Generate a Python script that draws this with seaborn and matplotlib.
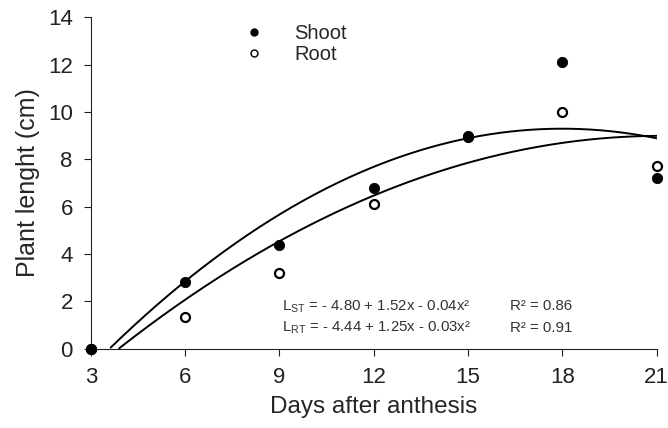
import numpy as np
import pandas as pd
import seaborn as sns
import matplotlib
matplotlib.use("Agg")
import matplotlib.pyplot as plt
from matplotlib.lines import Line2D

# data
days = [3, 6, 9, 12, 15, 18, 21]
shoot = [0.0, 2.8, 4.4, 6.8, 9.0, 12.1, 7.2]
root = [0.0, 1.35, 3.2, 6.1, 8.95, 10.0, 7.7]

# quadratic fits as drawn (a + b*x + c*x^2)
shoot_fit = [-5.21, 1.612, -0.0448]
root_fit = [-4.50, 1.2765, -0.0302]

eq_shoot = r"L$_{\rm ST}$ = - 4.80 + 1.52x - 0.04x²"
eq_root = r"L$_{\rm RT}$ = - 4.44 + 1.25x - 0.03x²"
r2_shoot = "R² = 0.86"
r2_root = "R² = 0.91"

sns.set_style("ticks")
plt.rcParams['font.family'] = ['Liberation Sans', 'DejaVu Sans']
plt.rcParams['mathtext.fontset'] = 'custom'
plt.rcParams['mathtext.rm'] = 'Liberation Sans'

fig = plt.figure(figsize=(6.68, 4.28), dpi=100)
ax = fig.add_axes([0.136, 0.185, 0.847, 0.775])

def curve(coef):
    a, b, c = coef
    xs = np.linspace(3, 21, 400)
    ys = a + b * xs + c * xs ** 2
    keep = ys >= 0
    return pd.DataFrame({"x": xs[keep], "y": ys[keep]})

for coef in (shoot_fit, root_fit):
    d = curve(coef)
    sns.lineplot(data=d, x="x", y="y", color="black", lw=1.4, ax=ax, sort=False)

df_s = pd.DataFrame({"day": days, "len": shoot})
df_r = pd.DataFrame({"day": days, "len": root})
sns.scatterplot(data=df_r, x="day", y="len", marker="o", s=42, facecolor="white",
                edgecolor="black", linewidth=1.6, ax=ax, clip_on=False, zorder=3)
sns.scatterplot(data=df_s, x="day", y="len", marker="o", s=55, color="black",
                edgecolor="black", ax=ax, clip_on=False, zorder=4)

ax.set_xlim(3, 21)
ax.set_ylim(0, 14)
ax.set_xticks(days)
ax.set_yticks(range(0, 15, 2))
sns.despine(ax=ax)
for s in ("left", "bottom"):
    ax.spines[s].set_linewidth(0.8)
    ax.spines[s].set_color("#222222")
ax.tick_params(direction="out", length=5, width=0.8, labelsize=16, pad=8, colors="#222222")
ax.set_xlabel("Days after anthesis", fontsize=17.5, labelpad=6)
ax.set_ylabel("Plant lenght (cm)", fontsize=18, labelpad=6)

handles = [Line2D([], [], marker="o", ls="", color="black", markersize=5),
           Line2D([], [], marker="o", ls="", markerfacecolor="white",
                  markeredgecolor="black", markersize=5)]
ax.legend(handles, ["Shoot", "Root"], frameon=False, fontsize=14.5,
          loc="upper left", bbox_to_anchor=(0.239, 1.035), handlelength=1,
          handletextpad=1.5, labelspacing=0.1)

ax.text(0.337, 0.117, eq_shoot, transform=ax.transAxes, fontsize=10.8, color="#333333")
ax.text(0.337, 0.052, eq_root, transform=ax.transAxes, fontsize=10.8, color="#333333")
ax.text(0.74, 0.117, r2_shoot, transform=ax.transAxes, fontsize=10.8, color="#333333")
ax.text(0.74, 0.052, r2_root, transform=ax.transAxes, fontsize=10.8, color="#333333")

fig.savefig("out.png", dpi=100)
